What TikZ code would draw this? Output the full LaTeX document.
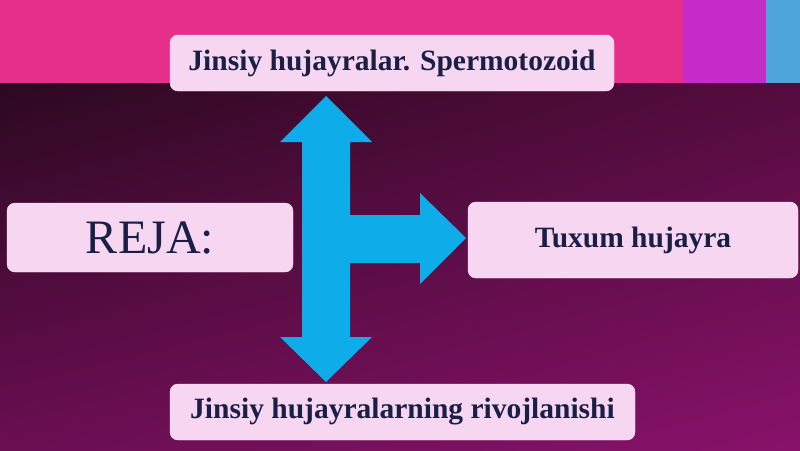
\documentclass[tikz,border=0pt]{standalone}
\usepackage{fontspec}
\setmainfont{Liberation Serif}
\usepackage{tikz}
\usetikzlibrary{shapes,arrows,positioning,calc,backgrounds,shadings,arrows.meta}
\usepackage{xcolor}
\definecolor{bandpink}{RGB}{230,46,139}
\definecolor{bandviolet}{RGB}{198,44,200}
\definecolor{bandblue}{RGB}{78,165,220}
\definecolor{bgtl}{RGB}{44,9,32}
\definecolor{bgtr}{RGB}{84,12,62}
\definecolor{bgbl}{RGB}{106,14,82}
\definecolor{bgbr}{RGB}{136,18,106}
\definecolor{boxfill}{RGB}{246,214,241}
\definecolor{boxline}{RGB}{252,232,250}
\definecolor{ink}{RGB}{27,31,69}
\definecolor{arrowblue}{RGB}{14,172,232}

\begin{document}
\begin{tikzpicture}[
    x=1pt, y=-1pt,
    box/.style={draw=boxline, fill=boxfill, rounded corners=8pt, align=center, text=ink, inner sep=0pt},
    topic/.style={box, font=\fontsize{29.5}{32}\selectfont\bfseries},
    bigarrow/.style={fill=arrowblue, draw=none}
]
\useasboundingbox (0,0) rectangle (800,450);

% Background - dark gradient with top band
\shade[upper left=bgtl, upper right=bgtr, lower left=bgbl, lower right=bgbr] (0,83) rectangle (800,450);
\fill[bandpink] (0,0) rectangle (683,83);
\fill[bandviolet] (683,0) rectangle (766,83);
\fill[bandblue] (766,0) rectangle (800,83);

% Plan items
\node[box, minimum width=286pt, minimum height=69pt, font=\fontsize{48}{52}\selectfont] (reja) at (150,237.5) {REJA:};
\node[topic, minimum width=444pt, minimum height=56pt] (sperm) at (392,63) {Jinsiy hujayralar. Spermotozoid};
\node[topic, minimum width=330pt, minimum height=76pt] (tuxum) at (633,240) {Tuxum hujayra};
\node[topic, minimum width=465pt, minimum height=56pt] (rivoj) at (402.5,412) {Jinsiy hujayralarning rivojlanishi};

% Three-way arrow - up, right, down
\fill[bigarrow] (326,96) -- (372,142) -- (350,142) -- (350,215) -- (420,215) -- (420,193)
    -- (466,238) -- (420,284) -- (420,263) -- (350,263) -- (350,337) -- (372,337)
    -- (326,382) -- (280,337) -- (302,337) -- (302,142) -- (280,142) -- cycle;

\end{tikzpicture}
\end{document}
